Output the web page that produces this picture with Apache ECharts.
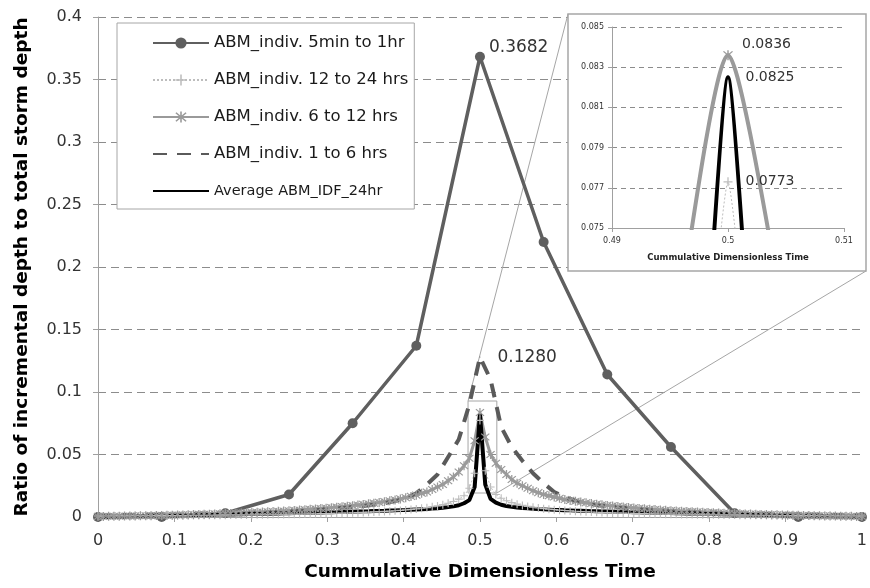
<!DOCTYPE html>
<html><head><meta charset="utf-8">
<script src="https://cdn.jsdelivr.net/npm/echarts@6/dist/echarts.min.js"></script>
<style>html,body{margin:0;padding:0;background:#fff}#c{width:870px;height:588px}</style>
</head><body><div id="c"></div>
<script>
// ---------------- DATA ----------------
const seriesNames = ['ABM_indiv. 5min to 1hr','ABM_indiv. 12 to 24 hrs','ABM_indiv. 6 to 12 hrs','ABM_indiv. 1 to 6 hrs','Average ABM_IDF_24hr'];
const xTickLabels = ['0','0.1','0.2','0.3','0.4','0.5','0.6','0.7','0.8','0.9','1'];
const axisTitleX = 'Cummulative Dimensionless Time';
const axisTitleY = 'Ratio of incremental depth to total storm depth';

// 5min to 1hr : 12 equal time steps (13 points)
const v5min = [0, 0, 0.003, 0.018, 0.075, 0.137, 0.3682, 0.220, 0.114, 0.056, 0.003, 0, 0];

// 1 to 6 hrs : 72 steps (73 points)
const v1to6 = [
 .0013,.0014,.0015,.0016,.0017,.0018,.0019,.0021,.0022,.0024,.0026,.0028,.0030,.0032,.0034,.0037,.0040,.0043,
 .0047,.0051,.0055,.0060,.0066,.0073,.0080,.0088,.0098,.0110,.0128,.0150,.0190,.0260,.0340,.0480,.0620,.0900,
 .1280,
 .110,.072,.056,.045,.035,.027,.020,.016,.013,.011,.0095,.0085,.0077,.0070,.0064,.0058,.0053,.0049,
 .0045,.0042,.0039,.0036,.0033,.0031,.0029,.0027,.0025,.0023,.0022,.0020,.0019,.0018,.0017,.0016,.0015,.0014];

// 6 to 12 hrs : 144 steps (145 points)
const v6to12 = [
 .0005,.0005,.0006,.0006,.0007,.0008,.0008,.0009,.0010,.0010,
 .0011,.0012,.0013,.0014,.0015,.0016,.0017,.0018,.0020,.0021,
 .0022,.0023,.0025,.0026,.0028,.0029,.0031,.0032,.0034,.0036,
 .0038,.0040,.0042,.0044,.0046,.0048,.0050,.0053,.0056,.0059,
 .0062,.0065,.0068,.0071,.0075,.0079,.0083,.0087,.0091,.0096,
 .0101,.0106,.0111,.0117,.0123,.0130,.0137,.0145,.0155,.0165,
 .0175,.019,.020,.022,.024,.026,.029,.032,.036,.041,
 .047,.061,
 .0836,
 .064,.050,.043,.038,.034,.030,.027,.025,.023,.021,
 .0195,.018,.017,.016,.015,.014,.0133,.0126,.012,.0114,
 .0108,.0103,.0098,.0093,.0089,.0085,.0081,.0077,.0073,.0069,
 .0066,.0063,.0060,.0057,.0054,.0051,.0049,.0047,.0045,.0043,
 .0041,.0039,.0037,.0035,.0033,.0031,.0030,.0028,.0027,.0025,
 .0024,.0023,.0021,.0020,.0019,.0018,.0017,.0016,.0015,.0014,
 .0013,.0012,.0011,.0010,.0009,.0009,.0008,.0007,.0007,.0006,
 .0005,.0005];

// 12 to 24 hrs : 144 steps (145 points)
const v12to24 = [
 .0008,.0008,.0008,.0009,.0009,.0009,.0009,.0010,.0010,.0010,
 .0010,.0011,.0011,.0011,.0012,.0012,.0012,.0013,.0013,.0013,
 .0014,.0014,.0014,.0015,.0015,.0016,.0016,.0017,.0017,.0018,
 .0018,.0019,.0019,.0020,.0021,.0021,.0022,.0022,.0023,.0024,
 .0025,.0026,.0027,.0028,.0029,.0030,.0031,.0032,.0034,.0035,
 .0037,.0039,.0041,.0043,.0045,.0047,.0050,.0053,.0057,.0061,
 .0065,.0070,.0075,.0082,.0089,.0099,.0110,.0124,.0143,.0170,
 .023,.035,
 .0773,
 .037,.024,.018,.015,.013,.0115,.0103,.0093,.0085,.0078,
 .0072,.0067,.0063,.0059,.0055,.0052,.0049,.0046,.0044,.0042,
 .0040,.0038,.0036,.0035,.0033,.0032,.0031,.0030,.0029,.0028,
 .0027,.0026,.0025,.0024,.0023,.0023,.0022,.0021,.0021,.0020,
 .0019,.0019,.0018,.0018,.0017,.0017,.0016,.0016,.0015,.0015,
 .0014,.0014,.0014,.0013,.0013,.0013,.0012,.0012,.0012,.0011,
 .0011,.0011,.0010,.0010,.0010,.0010,.0009,.0009,.0009,.0009,
 .0008,.0008];

// Average ABM_IDF_24hr : 144 steps (145 points)
const vAvg = [
 .0002,.0003,.0003,.0004,.0005,.0005,.0006,.0007,.0008,.0008,
 .0009,.0010,.0011,.0011,.0012,.0013,.0014,.0014,.0015,.0016,
 .0017,.0017,.0018,.0019,.0020,.0021,.0021,.0022,.0023,.0024,
 .0025,.0026,.0027,.0027,.0028,.0029,.0030,.0031,.0032,.0033,
 .0034,.0035,.0036,.0037,.0038,.0039,.0040,.0042,.0043,.0044,
 .0045,.0046,.0048,.0049,.0050,.0052,.0053,.0055,.0056,.0058,
 .0060,.0062,.0064,.0067,.0070,.0074,.0079,.0085,.0094,.0110,
 .0135,.024,
 .0825,
 .026,.0145,.0115,.0098,.0088,.0081,.0076,.0072,.0069,.0066,
 .0063,.0061,.0059,.0057,.0056,.0054,.0053,.0051,.0050,.0049,
 .0047,.0046,.0045,.0044,.0043,.0041,.0040,.0039,.0038,.0037,
 .0036,.0035,.0034,.0033,.0032,.0031,.0030,.0029,.0028,.0028,
 .0027,.0026,.0025,.0024,.0023,.0022,.0022,.0021,.0020,.0019,
 .0018,.0018,.0017,.0016,.0015,.0015,.0014,.0013,.0012,.0012,
 .0011,.0010,.0009,.0009,.0008,.0007,.0006,.0006,.0005,.0004,
 .0003,.0003];

// zoom window drawn on the main chart (data coordinates)
const zoomBox = {x0: 0.4844, x1: 0.5221, y0: 0.0192, y1: 0.0928};

// ---------------- RENDER ----------------
const FONT = 'DejaVu Sans';
const PLUS = 'path://M4.3,0H5.7V10H4.3Z M0,4.3H10V5.7H0Z';
const STAR = 'path://M4.4,0H5.6V10H4.4Z M0.8,1.6L1.6,0.8L9.2,8.4L8.4,9.2Z M8.4,0.8L9.2,1.6L1.6,9.2L0.8,8.4Z';

function pts(vals){ const n = vals.length - 1; return vals.map((v,i)=>[i/n, v]); }
function peakIndex(vals){ let m = 0; vals.forEach((v,i)=>{ if (v > vals[m]) m = i; }); return m; }
function labelled(vals, label, extra){
  const d = pts(vals); const k = peakIndex(vals);
  d[k] = Object.assign({value: d[k]}, extra || {}, {label: Object.assign({show:true, fontFamily:FONT, color:'#333',
        formatter: p => p.value[1].toFixed(4)}, label)});
  return d;
}

const C5 = '#5f5f5f', C1224 = '#bdbdbd', C612 = '#9a9a9a', C16 = '#5a5a5a', CAVG = '#000';

const chart = echarts.init(document.getElementById('c'), null, {renderer:'canvas'});
const option = {
  animation: false,
  backgroundColor: '#fff',
  textStyle: {fontFamily: FONT},
  grid: [
    {left: 98, top: 17, right: 4, bottom: 71},
    {left: 612, top: 27, width: 232, height: 201}
  ],
  legend: {
    orient: 'vertical', left: 117, top: 23, padding: [10, 6, 8, 35],
    itemWidth: 56, itemHeight: 14, itemGap: 17,
    backgroundColor: '#fff', borderColor: '#a6a6a6', borderWidth: 1,
    textStyle: {fontFamily: FONT, fontSize: 16.5, color: '#1a1a1a', lineHeight: 20},
    data: [seriesNames[0], seriesNames[1], seriesNames[2],
           {name: seriesNames[3], itemStyle: {opacity: 0}},
           {name: seriesNames[4], itemStyle: {opacity: 0}, textStyle: {fontSize: 14.5}}]
  },
  xAxis: [
    {gridIndex: 0, type: 'value', min: 0, max: 1, interval: 0.1,
     axisLine: {show: true, lineStyle: {color: '#a0a0a0'}},
     axisTick: {show: true, length: 5, lineStyle: {color: '#a0a0a0'}},
     axisLabel: {margin: 16, fontSize: 16, color: '#333', fontFamily: FONT,
                 formatter: (v) => xTickLabels[Math.round(v * 10)]},
     splitLine: {show: false},
     name: axisTitleX, nameLocation: 'middle', nameGap: 46,
     nameTextStyle: {fontFamily: FONT, fontWeight: 'bold', fontSize: 18.5, color: '#000'}},
    {gridIndex: 1, type: 'value', min: 0.49, max: 0.51, interval: 0.01, z: 3,
     axisLine: {show: true, onZero: false, lineStyle: {color: '#a0a0a0'}},
     axisTick: {show: true, length: 4, lineStyle: {color: '#a0a0a0'}},
     axisLabel: {margin: 9, fontSize: 8, color: '#333', fontFamily: FONT, formatter: v => String(+v.toFixed(2))},
     splitLine: {show: false},
     name: axisTitleX, nameLocation: 'middle', nameGap: 25,
     nameTextStyle: {fontFamily: FONT, fontWeight: 'bold', fontSize: 8.5, color: '#222'}}
  ],
  yAxis: [
    {gridIndex: 0, type: 'value', min: 0, max: 0.4, interval: 0.05,
     axisLine: {show: true, lineStyle: {color: '#a0a0a0'}},
     axisTick: {show: true, length: 5, lineStyle: {color: '#a0a0a0'}},
     axisLabel: {margin: 16, fontSize: 16, color: '#333', fontFamily: FONT},
     splitLine: {show: true, lineStyle: {color: '#8c8c8c', type: [8, 5], width: 1}},
     name: axisTitleY, nameLocation: 'middle', nameGap: 66, nameRotate: 90,
     nameTextStyle: {fontFamily: FONT, fontWeight: 'bold', fontSize: 18.5, color: '#000'}},
    {gridIndex: 1, type: 'value', min: 0.075, max: 0.085, interval: 0.002, z: 3,
     axisLine: {show: true, onZero: false, lineStyle: {color: '#a0a0a0'}},
     axisTick: {show: true, length: 4, lineStyle: {color: '#a0a0a0'}},
     axisLabel: {margin: 8, fontSize: 8, color: '#333', fontFamily: FONT, formatter: v => v.toFixed(3)},
     splitLine: {show: true, lineStyle: {color: '#8c8c8c', type: [5, 4], width: 1}}}
  ],
  series: [
    {name: seriesNames[0], type: 'line', xAxisIndex: 0, yAxisIndex: 0,
     data: labelled(v5min, {position: 'right', offset: [-1, -9], fontSize: 17}),
     symbol: 'circle', symbolSize: 10,
     lineStyle: {color: C5, width: 3.5}, itemStyle: {color: C5}},
    {name: seriesNames[1], type: 'line', xAxisIndex: 0, yAxisIndex: 0,
     data: pts(v12to24), symbol: PLUS, symbolSize: 8,
     lineStyle: {color: C1224, width: 1, type: [2, 2]}, itemStyle: {color: C1224}},
    {name: seriesNames[2], type: 'line', xAxisIndex: 0, yAxisIndex: 0,
     data: pts(v6to12), symbol: STAR, symbolSize: 9,
     lineStyle: {color: C612, width: 3}, itemStyle: {color: C612}},
    {name: seriesNames[3], type: 'line', xAxisIndex: 0, yAxisIndex: 0,
     data: labelled(v1to6, {position: 'right', offset: [12, 1], fontSize: 17}, {symbol: 'circle', symbolSize: 1}),
     symbol: 'none',
     lineStyle: {color: C16, width: 4, type: [14, 10]}, itemStyle: {color: C16}},
    {name: seriesNames[4], type: 'line', xAxisIndex: 0, yAxisIndex: 0,
     data: pts(vAvg), symbol: 'none',
     lineStyle: {color: CAVG, width: 4}, itemStyle: {color: CAVG}},
    // ---- inset (zoom on the peak) ----
    {name: seriesNames[1], type: 'line', xAxisIndex: 1, yAxisIndex: 1, clip: true, smooth: 0.1,
     data: labelled(v12to24, {position: 'right', offset: [8, 0], fontSize: 14}), symbol: PLUS, symbolSize: 9,
     lineStyle: {color: C1224, width: 1, type: [2, 2]}, itemStyle: {color: C1224}},
    {name: seriesNames[2], type: 'line', xAxisIndex: 1, yAxisIndex: 1, clip: true, smooth: 0.2,
     data: labelled(v6to12, {position: 'right', offset: [4, -11], fontSize: 14}), symbol: STAR, symbolSize: 10,
     lineStyle: {color: C612, width: 4}, itemStyle: {color: C612}},
    {name: seriesNames[4], type: 'line', xAxisIndex: 1, yAxisIndex: 1, clip: true, smooth: 0.12,
     data: labelled(vAvg, {position: 'right', offset: [12, 0], fontSize: 14}, {symbol: 'circle', symbolSize: 1}),
     symbol: 'none',
     lineStyle: {color: CAVG, width: 4}, itemStyle: {color: CAVG}}
  ]
};
chart.setOption(option);

// inset frame, zoom window and connectors
const frame = {x: 568, y: 14, w: 298, h: 257};
const pTL = chart.convertToPixel({gridIndex: 0}, [zoomBox.x0, zoomBox.y1]);
const pBR = chart.convertToPixel({gridIndex: 0}, [zoomBox.x1, zoomBox.y0]);
chart.setOption({
  graphic: [
    {type: 'rect', z: 1, shape: {x: frame.x, y: frame.y, width: frame.w, height: frame.h},
     style: {fill: '#fff', stroke: '#a6a6a6', lineWidth: 1.5}},
    {type: 'rect', z: 3, shape: {x: pTL[0], y: pTL[1], width: pBR[0] - pTL[0], height: pBR[1] - pTL[1]},
     style: {fill: 'none', stroke: '#a6a6a6', lineWidth: 1}},
    {type: 'line', z: 3, shape: {x1: pTL[0], y1: pTL[1], x2: frame.x, y2: frame.y},
     style: {stroke: '#a6a6a6', lineWidth: 1}},
    {type: 'line', z: 3, shape: {x1: pBR[0], y1: pBR[1], x2: frame.x + frame.w, y2: frame.y + frame.h},
     style: {stroke: '#a6a6a6', lineWidth: 1}}
  ]
});
</script></body></html>
